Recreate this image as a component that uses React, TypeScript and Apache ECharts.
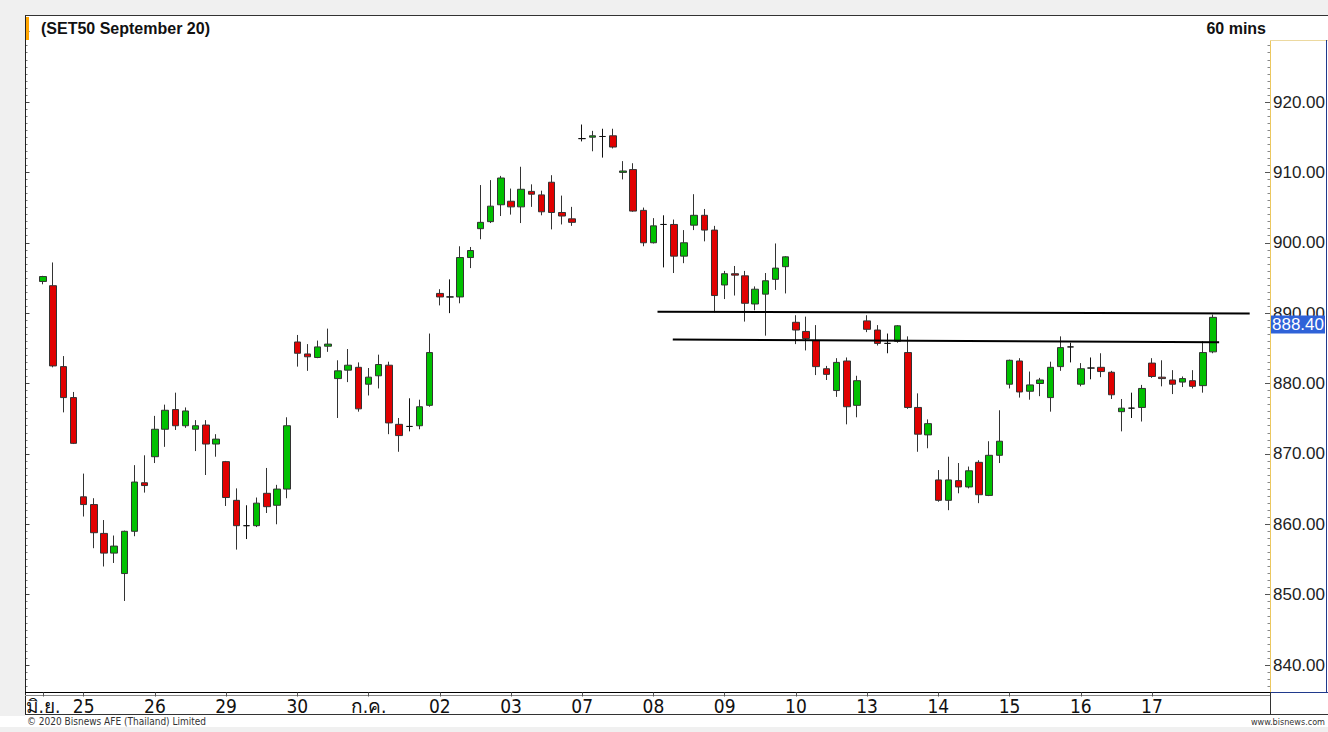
import React, { useEffect, useRef } from "react";
import * as echarts from "echarts";

// ---- data (SET50 futures, 60-minute candles) ----
const dayLabels = ["มิ.ย.", "25", "26", "29", "30", "ก.ค.", "02", "03", "07", "08", "09", "10", "13", "14", "15", "16", "17"];
const candlesPerDay = [4, 7, 7, 7, 7, 7, 7, 7, 7, 7, 7, 7, 7, 7, 7, 7, 7];
const emptySlotsRight = 5;

const openValues = [
  894.5, 893.9, 882.4, 878.0,
  863.9, 862.8, 858.7, 855.9, 853.0, 859.0, 865.9,
  869.6, 873.5, 876.3, 874.0, 873.5, 874.1, 871.4,
  868.9, 863.4, 859.8, 859.8, 864.4, 862.7, 865.0,
  885.9, 884.2, 883.7, 885.3, 880.7, 881.9, 882.3,
  879.9, 881.1, 882.6, 874.2, 873.9, 874.0, 876.9,
  892.8, 892.3, 892.3, 897.9, 902.0, 903.0, 905.4,
  905.9, 905.1, 907.3, 906.8, 908.6, 904.3, 903.4,
  914.8, 915.0, 915.1, 915.2, 910.0, 910.4,
  904.6, 900.0, 902.6, 902.6, 898.1, 902.5, 903.9,
  901.8, 894.0, 895.6, 895.3, 891.3, 892.7, 894.8, 896.6,
  888.7, 887.4, 886.1, 882.1, 879.0, 883.2, 876.9,
  888.9, 887.6, 885.7, 886.0, 884.4, 876.6, 872.7,
  866.3, 863.4, 866.2, 865.3, 868.8, 864.1, 869.8,
  879.9, 883.2, 878.9, 880.0, 878.0, 882.4, 885.2,
  879.9, 882.2, 882.3, 881.6, 876.0, 876.5, 876.6,
  882.9, 880.9, 880.5, 880.2, 880.4, 879.7, 884.5,
];
const closeValues = [
  895.2, 882.5, 878.0, 871.5,
  862.8, 858.8, 855.9, 856.9, 859.0, 866.0, 865.5,
  873.5, 876.2, 874.0, 876.1, 874.0, 871.4, 872.1,
  863.8, 859.8, 859.8, 863.0, 862.5, 865.0, 874.0,
  884.3, 883.8, 885.2, 885.6, 881.8, 882.6, 876.4,
  880.9, 882.7, 874.4, 872.6, 873.9, 876.7, 884.4,
  892.3, 892.3, 897.9, 898.9, 902.9, 905.2, 909.2,
  905.1, 907.6, 906.9, 904.4, 904.3, 903.8, 902.9,
  914.8, 915.2, 915.1, 913.6, 910.2, 904.5,
  900.0, 902.4, 902.6, 898.1, 900.0, 903.9, 901.8,
  892.5, 895.6, 895.4, 891.4, 893.4, 894.6, 896.4, 898.0,
  887.6, 886.4, 882.4, 881.3, 883.0, 876.7, 880.4,
  887.7, 885.7, 885.7, 888.2, 876.6, 872.8, 874.3,
  863.4, 866.3, 865.3, 867.6, 864.2, 869.8, 871.8,
  883.3, 878.8, 879.8, 880.5, 882.3, 885.1, 885.2,
  882.1, 882.2, 881.7, 878.4, 876.5, 876.5, 879.3,
  881.0, 880.7, 879.9, 880.7, 879.6, 884.4, 889.4,
];
const lowValues = [
  894.1, 882.3, 875.9, 871.4,
  861.1, 856.6, 854.0, 854.5, 849.1, 858.3, 864.5,
  868.7, 871.0, 873.4, 873.7, 870.4, 867.0, 869.6,
  862.6, 856.4, 857.9, 859.6, 861.6, 860.0, 863.7,
  882.4, 881.8, 883.6, 884.5, 875.1, 880.2, 876.0,
  878.3, 879.3, 872.8, 870.3, 873.2, 873.5, 876.7,
  891.1, 890.0, 891.4, 896.4, 900.5, 902.8, 903.8,
  904.0, 902.8, 905.1, 903.9, 901.9, 902.6, 902.4,
  914.4, 913.0, 912.1, 913.4, 909.0, 904.4,
  899.5, 899.9, 896.5, 895.7, 897.1, 901.8, 900.2,
  890.1, 892.0, 892.5, 888.8, 890.4, 886.8, 893.3, 892.8,
  885.6, 884.7, 881.2, 880.5, 878.1, 874.2, 875.2,
  887.3, 885.4, 884.3, 885.8, 876.4, 870.3, 870.8,
  863.2, 862.0, 864.4, 865.1, 863.0, 864.0, 868.7,
  879.3, 878.0, 877.7, 878.2, 876.0, 881.8, 883.0,
  879.6, 880.6, 880.9, 877.8, 873.2, 875.1, 874.6,
  880.8, 879.6, 878.5, 879.5, 879.3, 878.7, 884.3,
];
const highValues = [
  895.3, 897.2, 883.9, 878.8,
  867.2, 863.7, 860.6, 858.4, 859.1, 868.4, 869.8,
  875.4, 877.0, 878.7, 876.6, 874.8, 874.8, 872.8,
  869.0, 865.1, 862.7, 863.8, 868.0, 865.6, 875.2,
  886.9, 885.6, 886.1, 887.8, 883.3, 884.9, 883.0,
  882.2, 884.1, 883.1, 875.1, 877.9, 877.7, 887.1,
  893.4, 894.8, 899.5, 899.4, 908.2, 908.9, 909.5,
  907.7, 910.8, 908.3, 907.4, 909.6, 906.7, 905.1,
  916.8, 915.9, 916.2, 916.2, 911.6, 911.3,
  905.0, 903.5, 903.9, 903.3, 901.8, 906.9, 904.8,
  902.4, 896.0, 896.7, 896.0, 893.8, 895.7, 899.9, 898.1,
  889.7, 889.5, 888.3, 882.5, 883.6, 883.7, 881.1,
  889.7, 888.3, 887.1, 888.3, 886.7, 878.6, 874.9,
  867.7, 869.6, 868.7, 868.2, 869.1, 871.8, 876.2,
  883.4, 883.6, 881.7, 880.8, 883.1, 886.7, 885.8,
  882.9, 883.7, 884.3, 881.8, 877.8, 878.7, 879.8,
  883.6, 883.3, 881.9, 881.0, 881.9, 886.0, 889.8,
];
const lastPrice = 888.4;
// hand-drawn resistance lines: [candle position, price]
const resistanceUpper = [[60.4, 890.2], [118.6, 889.95]];
const resistanceLower = [[61.9, 886.25], [115.6, 885.85]];
const yTickLabels = [840, 850, 860, 870, 880, 890, 900, 910, 920];

// the chart canvas is taller than the page so that the value axis can run on round bounds
const OY = 39; // page y = canvas y - OY
const CANVAS_H = 775;

export default function App() {
  const ref = useRef<HTMLDivElement>(null);

  useEffect(() => {
    const chart = echarts.init(ref.current!, null, { renderer: "svg" });

    const labelsByIndex: string[] = [];
    dayLabels.forEach((lab, d) => {
      for (let k = 0; k < candlesPerDay[d]; k++) labelsByIndex.push(k === 0 ? lab : "");
    });
    for (let k = 0; k < emptySlotsRight; k++) labelsByIndex.push("");
    const categories = labelsByIndex.map((_, i) => "c" + i);
    const candleData = openValues.map((o, i) => [o, closeValues[i], lowValues[i], highValues[i]]);
    const showIdx = (i: number) => labelsByIndex[i] !== "";

    const narrow = "'Liberation Sans Narrow', 'DejaVu Sans Condensed', 'Arial Narrow', sans-serif";
    const sans = "'Liberation Sans', Arial, sans-serif";
    const Y = (y: number) => y + OY;

    // value axis 830..940: 940 at page y -38.75, 830 at page y 735.4
    const gridTop = -38.75 + OY;
    const gridBottom = CANVAS_H - (735.4 + OY);

    const option: any = {
      animation: false,
      backgroundColor: "#ffffff",
      grid: { left: 37.9, right: 58.5, top: gridTop, bottom: gridBottom, containLabel: false },
      xAxis: [
        {
          type: "category",
          data: categories,
          boundaryGap: true,
          position: "bottom",
          offset: -42.9,
          z: 60,
          axisLine: { onZero: false, lineStyle: { color: "#000", width: 1 } },
          axisTick: { show: true, alignWithLabel: true, interval: (i: number) => showIdx(i), length: 4, lineStyle: { color: "#555" } },
          axisLabel: {
            interval: (i: number) => showIdx(i),
            formatter: (_v: string, i: number) => labelsByIndex[i],
            color: "#111",
            fontSize: 19,
            fontFamily: narrow,
            margin: 4,
          },
          splitLine: { show: false },
        },
        {
          type: "value",
          min: -0.5,
          max: categories.length - 0.5,
          show: false,
          axisLine: { show: false, onZero: false },
          splitLine: { show: false },
        },
      ],
      yAxis: [
        {
          type: "value",
          position: "right",
          min: 830,
          max: 940,
          interval: 10,
          offset: 1,
          axisLine: { show: true, onZero: false, lineStyle: { color: "#ecc860", width: 1 } },
          axisTick: { show: true, inside: true, length: 5, lineStyle: { color: "#555" } },
          minorTick: { show: true, splitNumber: 10, length: 2.5, lineStyle: { color: "#888" } },
          axisLabel: {
            margin: 3,
            formatter: (v: number) => (yTickLabels.indexOf(v) >= 0 ? v.toFixed(2) : ""),
            color: "#222",
            fontSize: 17,
            fontFamily: sans,
          },
          splitLine: { show: false },
        },
        {
          type: "value",
          position: "left",
          min: 830,
          max: 940,
          interval: 10,
          offset: 12.4,
          axisLine: { show: false, onZero: false },
          axisTick: { show: true, inside: true, length: 4, lineStyle: { color: "#444" } },
          minorTick: { show: true, splitNumber: 10, length: 2, lineStyle: { color: "#777" } },
          axisLabel: { show: false },
          splitLine: { show: false },
        },
      ],
      series: [
        {
          type: "candlestick",
          xAxisIndex: 0,
          yAxisIndex: 0,
          data: candleData,
          barWidth: 7,
          itemStyle: {
            color: "#00c000",
            color0: "#e00000",
            borderColor: "#333",
            borderColor0: "#333",
            borderColorDoji: "#111",
            borderWidth: 1,
          },
          markLine: {
            silent: true,
            symbol: ["none", "none"],
            lineStyle: { color: "transparent", width: 0 },
            data: [{ yAxis: lastPrice }],
            label: {
              show: true,
              position: "end",
              formatter: lastPrice.toFixed(2),
              backgroundColor: "#2f62d8",
              color: "#ffffff",
              fontSize: 17,
              fontFamily: sans,
              padding: [1, 1, 0, 1],
              distance: 2,
            },
          },
        },
        {
          type: "line",
          xAxisIndex: 1,
          yAxisIndex: 0,
          data: resistanceUpper,
          symbol: "none",
          lineStyle: { color: "#000", width: 2 },
          z: 5,
        },
        {
          type: "line",
          xAxisIndex: 1,
          yAxisIndex: 0,
          data: resistanceLower,
          symbol: "none",
          lineStyle: { color: "#000", width: 2 },
          z: 5,
        },
      ],
      graphic: [
        { type: "rect", z: 50, silent: true, shape: { x: 0, y: 0, width: 1328, height: Y(15.5) }, style: { fill: "#f0f0f0" } },
        { type: "rect", z: 50, silent: true, shape: { x: 0, y: 0, width: 25, height: Y(716) }, style: { fill: "#f0f0f0" } },
        { type: "rect", z: 50, silent: true, shape: { x: 1250, y: Y(16), width: 78, height: 24 }, style: { fill: "#ffffff" } },
        { type: "rect", z: 50, silent: true, shape: { x: 25, y: Y(693), width: 1303, height: 80 }, style: { fill: "#ffffff" } },
        { type: "rect", z: 51, silent: true, shape: { x: 0, y: Y(727), width: 1328, height: 40 }, style: { fill: "#f0f0f0" } },
        { type: "line", z: 52, silent: true, shape: { x1: 25, y1: Y(15.5), x2: 1328, y2: Y(15.5) }, style: { stroke: "#333", lineWidth: 1 } },
        { type: "line", z: 52, silent: true, shape: { x1: 25.5, y1: Y(15.5), x2: 25.5, y2: Y(714.5) }, style: { stroke: "#222", lineWidth: 1 } },
        { type: "rect", z: 53, silent: true, shape: { x: 26, y: Y(17), width: 3, height: 23 }, style: { fill: "#ffa500" } },
        { type: "line", z: 52, silent: true, shape: { x1: 1270, y1: Y(40.5), x2: 1328, y2: Y(40.5) }, style: { stroke: "#ecd9a0", lineWidth: 1 } },
        { type: "line", z: 52, silent: true, shape: { x1: 1326.5, y1: Y(40), x2: 1326.5, y2: Y(693) }, style: { stroke: "#203a8c", lineWidth: 1 } },
        { type: "line", z: 52, silent: true, shape: { x1: 1270, y1: Y(692.5), x2: 1328, y2: Y(692.5) }, style: { stroke: "#203a8c", lineWidth: 1 } },
        { type: "line", z: 52, silent: true, shape: { x1: 25, y1: Y(692.5), x2: 1270, y2: Y(692.5) }, style: { stroke: "#000", lineWidth: 1 } },
        { type: "line", z: 52, silent: true, shape: { x1: 25, y1: Y(695.5), x2: 1270, y2: Y(695.5) }, style: { stroke: "#888", lineWidth: 1 } },
        { type: "line", z: 52, silent: true, shape: { x1: 25, y1: Y(714.5), x2: 1328, y2: Y(714.5) }, style: { stroke: "#333", lineWidth: 1 } },
        { type: "line", z: 52, silent: true, shape: { x1: 1270.5, y1: Y(692), x2: 1270.5, y2: Y(714.5) }, style: { stroke: "#333", lineWidth: 1 } },
        {
          type: "text", z: 70, silent: true, x: 41, y: Y(28),
          style: { text: "(SET50 September 20)", fill: "#111", font: "bold 16px " + sans, verticalAlign: "middle" },
        },
        {
          type: "text", z: 70, silent: true, x: 1266, y: Y(28),
          style: { text: "60 mins", fill: "#111", font: "bold 16px " + sans, align: "right", verticalAlign: "middle" },
        },
        {
          type: "text", z: 70, silent: true, x: 27, y: Y(721),
          style: { text: "© 2020 Bisnews AFE (Thailand) Limited", fill: "#333", font: "10px " + narrow, verticalAlign: "middle" },
        },
        {
          type: "text", z: 70, silent: true, x: 1325, y: Y(722),
          style: { text: "www.bisnews.com", fill: "#333", font: "9px " + narrow, align: "right", verticalAlign: "middle" },
        },
      ],
    };

    chart.setOption(option);
    return () => chart.dispose();
  }, []);

  return <div ref={ref} style={{ position: "absolute", left: 0, top: -OY, width: 1328, height: CANVAS_H }} />;
}
